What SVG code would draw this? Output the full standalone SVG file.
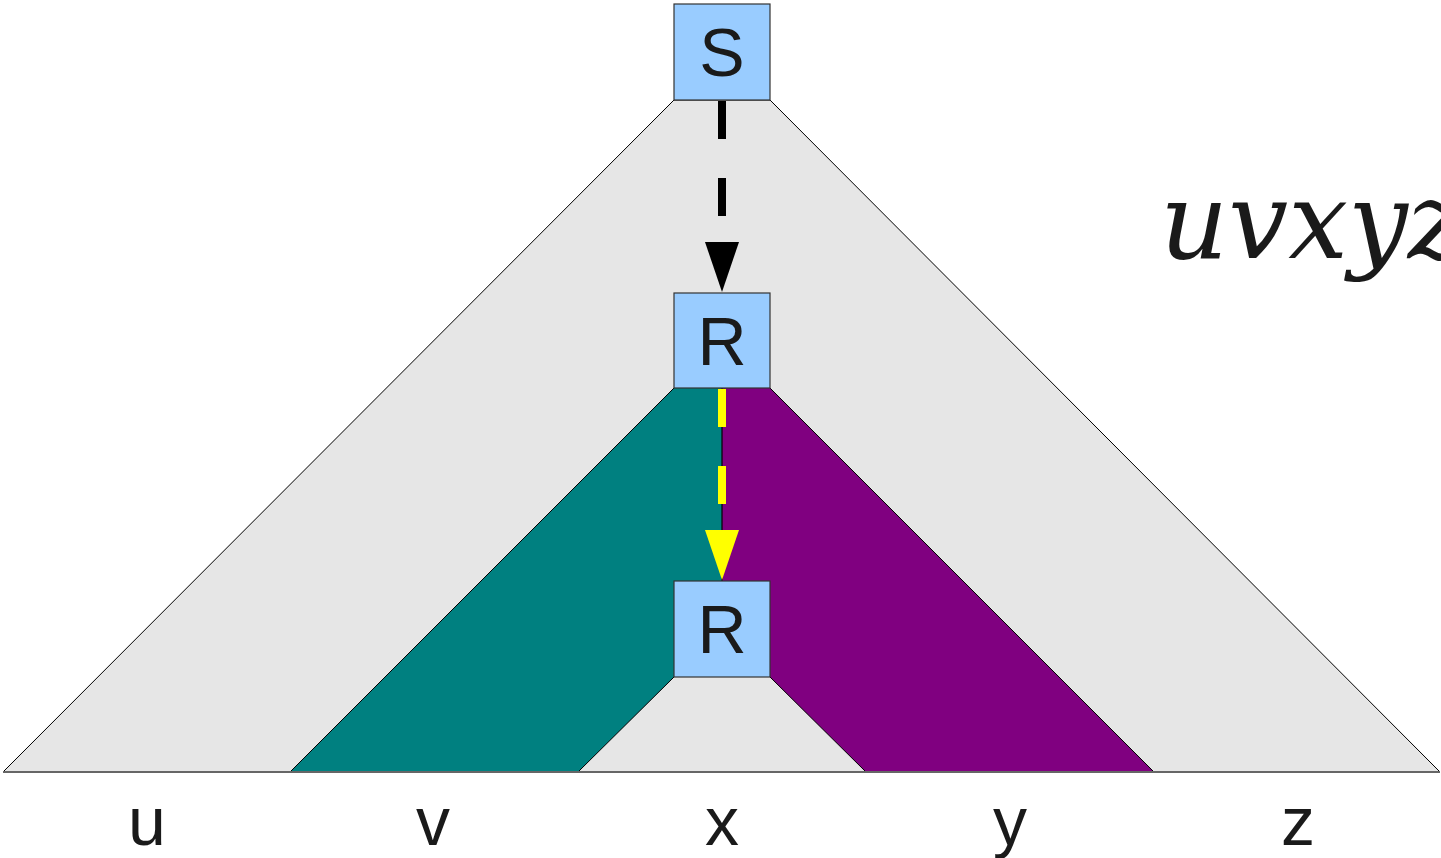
<svg xmlns="http://www.w3.org/2000/svg" width="1441" height="858" viewBox="0 0 1441 858">
<style>
.box{fill:#99ccff;stroke:#333;stroke-width:1.2}
.lbl{font-family:"Liberation Sans",Arial,sans-serif;font-size:68px;fill:#1a1a1a;text-anchor:middle}
.region{stroke:#000;stroke-width:1}
</style>
<defs>
<marker id="ab" markerUnits="userSpaceOnUse" markerWidth="34" markerHeight="50" refX="17" refY="50" orient="auto-start-reverse" viewBox="0 0 34 50"><path d="M0,0 L34,0 L17,50 Z" fill="#000"/></marker>
<marker id="ay" markerUnits="userSpaceOnUse" markerWidth="34" markerHeight="50" refX="17" refY="50" viewBox="0 0 34 50"><path d="M0,0 L34,0 L17,50 Z" fill="#ffff00"/></marker>
</defs>
<rect width="1441" height="858" fill="#fff"/>
<g id="tree">
<polygon class="region" points="674,100 770,100 1440,772 3,772" fill="#e6e6e6"/>
<polygon points="674,388 722,388 722,581 674,581 674,677 578,772 290,772" fill="#008080"/>
<polygon points="722,388 770,388 1154,772 866,772 770,677 770,581 722,581" fill="#800080"/>
<path d="M674,388 L290,772 M578,772 L674,677 M770,388 L1154,772 M866,772 L770,677" stroke="#000" stroke-width="1" fill="none"/>
<line x1="3" y1="772" x2="1440" y2="772" stroke="#666" stroke-width="2"/>
</g>
<g id="connectors">
<line x1="722" y1="388" x2="722" y2="581" stroke="#000" stroke-width="1.2"/>
<line x1="722" y1="101" x2="722" y2="242" stroke="#000" stroke-width="8" stroke-dasharray="38,39"/>
<path d="M705,242 L739,242 L722,292 Z" fill="#000"/>
<line x1="722" y1="389" x2="722" y2="530" stroke="#ffff00" stroke-width="8" stroke-dasharray="38,39"/>
<path d="M705,530 L739,530 L722,580 Z" fill="#ffff00"/>
</g>
<g id="node-S"><rect class="box" x="674" y="4" width="96" height="96"/><text class="lbl" x="722" y="76">S</text></g>
<g id="node-R1"><rect class="box" x="674" y="293" width="96" height="95"/><text class="lbl" x="722" y="365">R</text></g>
<g id="node-R2"><rect class="box" x="674" y="581" width="96" height="96"/><text class="lbl" x="722" y="653">R</text></g>
<g id="labels">
<text class="lbl" x="147" y="845">u</text>
<text class="lbl" x="433" y="845">v</text>
<text class="lbl" x="722" y="845">x</text>
<text class="lbl" x="1010" y="845">y</text>
<text class="lbl" x="1298" y="845">z</text>
<text x="1160" y="258" font-family="DejaVu Serif, serif" font-style="italic" font-size="106" fill="#1a1a1a">uvxyz</text>
</g>
</svg>
